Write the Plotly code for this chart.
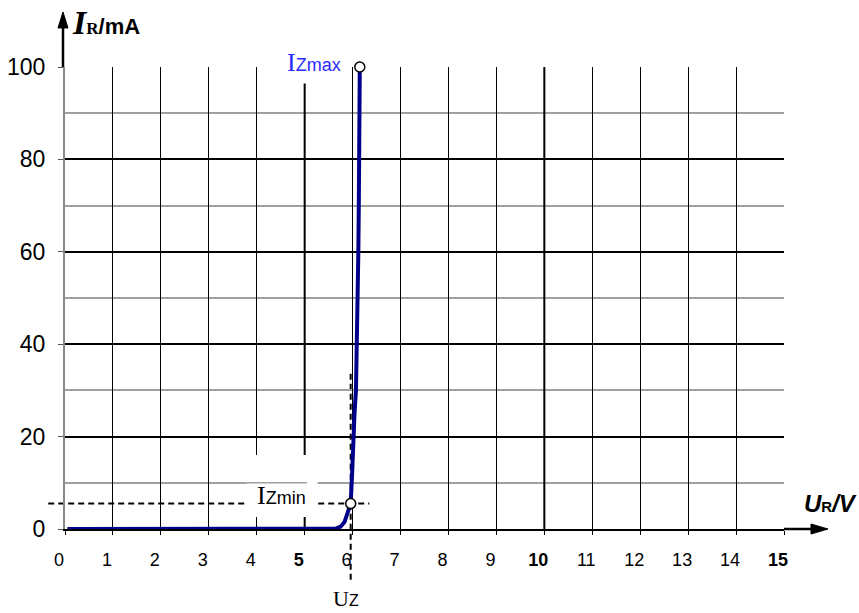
import plotly.graph_objects as go

# ---- data ----
U_V = [0.05, 1, 2, 3, 4, 5, 5.5, 5.65, 5.75, 5.83, 5.88, 5.93, 5.96, 5.99, 6.01, 6.04, 6.07, 6.09, 6.10, 6.12, 6.13, 6.15]
I_mA = [0, 0, 0, 0, 0, 0, 0, 0.1, 0.5, 1.5, 3.0, 4.5, 5.5, 12, 19, 25, 30, 40, 50, 60, 71, 100]

U_Z = 5.96
I_ZMIN = 5.5
U_ZMAX = 6.15
I_ZMAX = 100

x_ticks = list(range(0, 16))
x_tick_labels = ["<b>%d</b>" % v if (v % 5 == 0 and v > 0) else str(v) for v in x_ticks]
y_ticks = [0, 20, 40, 60, 80, 100]
y_tick_labels = [str(v) for v in y_ticks]

X_MIN, X_MAX = 0, 15
Y_MIN, Y_MAX = 0, 100

SERIF = "Liberation Serif"
SANS = "Liberation Sans, Arial, sans-serif"

W, H = 859, 613
ML, MR, MT, MB = 65, 75, 67, 84
PW, PH = W - ML - MR, H - MT - MB

def px(x):
    return (x - X_MIN) / (X_MAX - X_MIN)

def py(y):
    return (y - Y_MIN) / (Y_MAX - Y_MIN)

fig = go.Figure()
fig.add_trace(go.Scatter(x=U_V, y=I_mA, mode="lines",
                         line=dict(color="#00008B", width=4),
                         cliponaxis=False, hoverinfo="skip"))
fig.add_trace(go.Scatter(x=[U_Z, U_ZMAX], y=[I_ZMIN, I_ZMAX], mode="markers",
                         marker=dict(symbol="circle", size=10, color="white",
                                     line=dict(color="black", width=1.5)),
                         cliponaxis=False, hoverinfo="skip"))

fig.update_layout(width=W, height=H, autosize=False,
                  margin=dict(l=ML, r=MR, t=MT, b=MB, autoexpand=False),
                  paper_bgcolor="white", plot_bgcolor="white",
                  showlegend=False,
                  font=dict(family=SANS, color="black"))

fig.update_xaxes(range=[X_MIN, X_MAX], tickmode="array", tickvals=x_ticks, ticktext=x_tick_labels,
                 showgrid=True, gridcolor="black", gridwidth=1, automargin=False,
                 ticks="outside", ticklen=4, tickcolor="black", tickwidth=1,
                 tickfont=dict(size=18, family=SANS), ticklabelshift=-6, ticklabelstandoff=9,
                 showline=True, linecolor="black", linewidth=2, zeroline=False)
fig.update_yaxes(range=[Y_MIN, Y_MAX], tickmode="array", tickvals=y_ticks, ticktext=y_tick_labels,
                 showgrid=True, gridcolor="black", gridwidth=2, automargin=False,
                 minor=dict(tickmode="linear", tick0=0, dtick=10, showgrid=True,
                            gridcolor="#a0a0a0", gridwidth=1.5, ticks=""),
                 ticks="outside", ticklen=5, tickcolor="#555555", tickwidth=1,
                 tickfont=dict(size=23, family=SANS), ticklabelstandoff=8,
                 showline=True, linecolor="#888888", linewidth=2, zeroline=False)

shapes = []
# slightly heavier verticals at 5 and 10
for xv in (5, 10):
    shapes.append(dict(type="line", xref="x", yref="y", x0=xv, x1=xv, y0=Y_MIN, y1=Y_MAX,
                       line=dict(color="black", width=2), layer="between"))
# dashed guide lines
shapes.append(dict(type="line", xref="paper", yref="y",
                   x0=px(-0.35), x1=px(6.35), y0=I_ZMIN, y1=I_ZMIN,
                   line=dict(color="black", width=2, dash="6px,4px"), layer="between"))
shapes.append(dict(type="line", xref="x", yref="paper",
                   x0=U_Z, x1=U_Z, y0=py(-11), y1=py(34),
                   line=dict(color="black", width=2, dash="6px,4px"), layer="between"))
# white background behind the I_Zmin label
shapes.append(dict(type="rect", xref="x", yref="y", x0=3.79, x1=5.27, y0=2.6, y1=16.0,
                   fillcolor="white", line=dict(width=0), layer="between"))
# minor grid segment visible over the I_Zmin box
shapes.append(dict(type="line", xref="x", yref="y", x0=3.79, x1=5.05, y0=10, y1=10,
                   line=dict(color="#a0a0a0", width=1.5), layer="between"))

# axis arrows (line + filled head), in paper coordinates
y_tip = 1 + 55 / PH
shapes.append(dict(type="line", xref="paper", yref="paper", x0=-2 / PW, x1=-2 / PW, y0=1, y1=y_tip - 10 / PH,
                   line=dict(color="black", width=2.5), layer="above"))
shapes.append(dict(type="path", xref="paper", yref="paper",
                   path="M %f,%f L %f,%f L %f,%f Z" % (-2 / PW, y_tip, -7 / PW, y_tip - 16 / PH, 3 / PW, y_tip - 16 / PH),
                   fillcolor="black", line=dict(color="black", width=1), layer="above"))
x_tip = 1 + 44 / PW
shapes.append(dict(type="line", xref="paper", yref="paper", x0=1, x1=x_tip - 10 / PW, y0=0, y1=0,
                   line=dict(color="black", width=2.5), layer="above"))
shapes.append(dict(type="path", xref="paper", yref="paper",
                   path="M %f,%f L %f,%f L %f,%f Z" % (x_tip, 0, x_tip - 17 / PW, 5 / PH, x_tip - 17 / PW, -5 / PH),
                   fillcolor="black", line=dict(color="black", width=1), layer="above"))
fig.update_layout(shapes=shapes)

ann = []
# axis titles
ann.append(dict(xref="paper", yref="paper", x=5 / PW, y=1 + 45 / PH, xanchor="left", yanchor="middle",
                showarrow=False,
                text=('<span style="font-family:%s;font-size:34px"><b><i>I</i></b></span>'
                      '<span style="font-family:%s;font-size:17px"><b>R</b></span>'
                      '<b>/mA</b>') % (SERIF, SERIF),
                font=dict(size=22, family=SANS, color="black")))
ann.append(dict(xref="paper", yref="paper", x=px(15.38), y=py(5.6), xanchor="left", yanchor="middle",
                showarrow=False,
                text='<b><i>U</i></b><span style="font-size:15px"><b>R</b></span><b><i>/V</i></b>',
                font=dict(size=24, family=SANS, color="black")))
# point labels
ann.append(dict(xref="paper", yref="paper", x=px(5.2), y=py(100.9), xanchor="center", yanchor="middle",
                showarrow=False, bgcolor="white", borderpad=6,
                text=('<span style="font-family:%s;font-size:26px">I</span>'
                      '<span style="font-size:18px">Zmax</span>') % SERIF,
                font=dict(size=18, family=SANS, color="#2a2aff")))
ann.append(dict(xref="paper", yref="paper", x=px(4.52), y=py(7.3), xanchor="center", yanchor="middle",
                showarrow=False,
                text=('<span style="font-family:%s;font-size:26px">I</span>'
                      '<span style="font-size:18px">Zmin</span>') % SERIF,
                font=dict(size=18, family=SANS, color="black")))
ann.append(dict(xref="paper", yref="paper", x=px(5.86), y=py(-15.0), xanchor="center", yanchor="middle",
                showarrow=False,
                text=('<span style="font-family:%s;font-size:22px">U</span>'
                      '<span style="font-size:16px">Z</span>') % SERIF,
                font=dict(size=16, family=SANS, color="black")))
fig.update_layout(annotations=ann)

fig.write_html("out.html", post_script="document.body.style.margin='0px';",
               config={"displayModeBar": False})
